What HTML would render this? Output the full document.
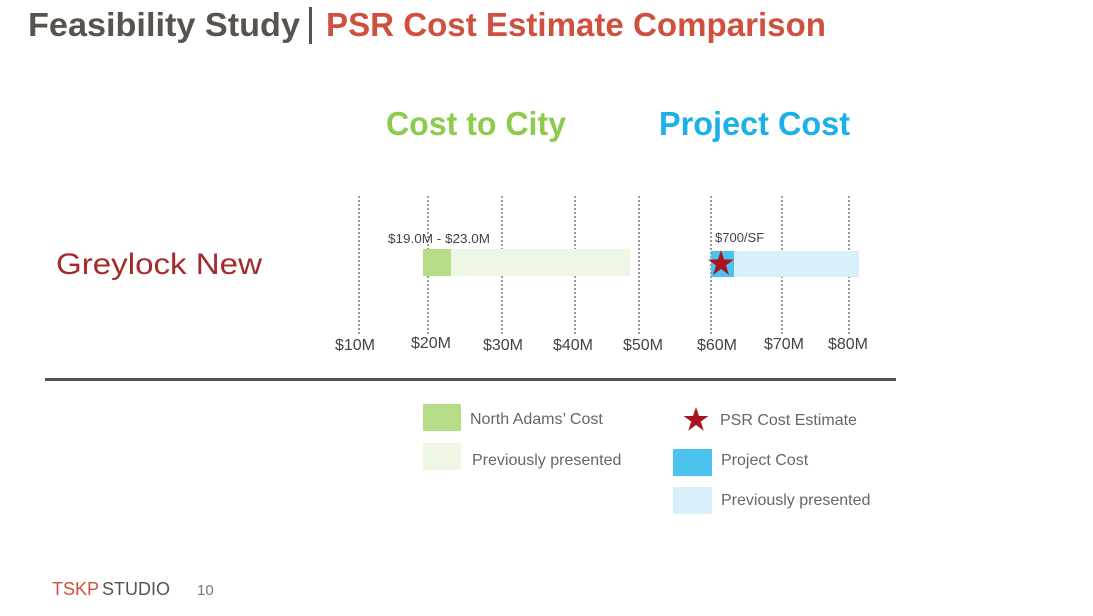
<!DOCTYPE html>
<html><head><meta charset="utf-8"><style>html,body{margin:0;padding:0;background:#fff}svg{display:block}</style></head>
<body>
<svg width="1093" height="616" xmlns="http://www.w3.org/2000/svg" font-family="Liberation Sans, sans-serif">
<rect width="1093" height="616" fill="#fff"/>
<text x="28" y="36" font-size="33" font-weight="bold" fill="#5a524c" textLength="272" lengthAdjust="spacingAndGlyphs">Feasibility Study</text>
<rect x="309" y="7" width="3" height="37" fill="#5a524c"/>
<text x="326" y="36" font-size="33" font-weight="bold" fill="#d0503f" textLength="500" lengthAdjust="spacingAndGlyphs">PSR Cost Estimate Comparison</text>
<text x="386" y="135" font-size="33" font-weight="bold" fill="#8ccc4c" textLength="180" lengthAdjust="spacingAndGlyphs">Cost to City</text>
<text x="659" y="135" font-size="33" font-weight="bold" fill="#1ab0e8" textLength="191" lengthAdjust="spacingAndGlyphs">Project Cost</text>
<text x="56" y="274" font-size="30" fill="#a52a2a" textLength="206" lengthAdjust="spacingAndGlyphs">Greylock New</text>
<g stroke="#333" stroke-width="1" stroke-dasharray="2,2">
<line x1="359" y1="196" x2="359" y2="334"/><line x1="428" y1="196" x2="428" y2="334"/>
<line x1="502" y1="196" x2="502" y2="334"/><line x1="575" y1="196" x2="575" y2="334"/>
<line x1="639" y1="196" x2="639" y2="334"/><line x1="711" y1="196" x2="711" y2="334"/>
<line x1="782" y1="196" x2="782" y2="334"/><line x1="849" y1="196" x2="849" y2="334"/>
</g>
<rect x="451" y="249" width="179" height="27" fill="#eef6e4"/>
<rect x="423" y="249" width="28" height="27" fill="#b5dd87"/>
<rect x="734" y="251" width="125" height="26" fill="#d7f0f9"/>
<rect x="711" y="251" width="23" height="26" fill="#4cc3ee"/>
<polygon points="721,250 724.1,259.5 734,259.5 726,265.4 729,275 721,269 713,275 716,265.4 708,259.5 717.9,259.5" fill="#a8151f"/>
<text x="388" y="243" font-size="13" fill="#444" textLength="102" lengthAdjust="spacingAndGlyphs">$19.0M - $23.0M</text>
<text x="715" y="242" font-size="13" fill="#444">$700/SF</text>
<g font-size="16" fill="#444" text-anchor="middle">
<text x="355" y="350">$10M</text><text x="431" y="348">$20M</text><text x="503" y="350">$30M</text>
<text x="573" y="350">$40M</text><text x="643" y="350">$50M</text><text x="717" y="350">$60M</text>
<text x="784" y="349">$70M</text><text x="848" y="349">$80M</text>
</g>
<rect x="45" y="378" width="851" height="3" fill="#5a524c"/>
<rect x="423" y="404" width="38" height="27" fill="#b5dd87"/>
<text x="470" y="424" font-size="16" fill="#666">North Adams’ Cost</text>
<rect x="423" y="443" width="38" height="27" fill="#eef6e4"/>
<text x="472" y="465" font-size="16" fill="#666">Previously presented</text>
<polygon points="696,407 699,416 708.5,416 700.8,421.6 703.7,430.6 696,425 688.3,430.6 691.2,421.6 683.5,416 693,416" fill="#a8151f"/>
<text x="720" y="425" font-size="16" fill="#666">PSR Cost Estimate</text>
<rect x="673" y="449" width="39" height="27" fill="#4cc3ee"/>
<text x="721" y="465" font-size="16" fill="#666">Project Cost</text>
<rect x="673" y="487" width="39" height="27" fill="#d7f0f9"/>
<text x="721" y="505" font-size="16" fill="#666">Previously presented</text>
<text x="52" y="595" font-size="18" fill="#d0503f">TSKP</text>
<text x="102" y="595" font-size="18" fill="#5a524c">STUDIO</text>
<text x="197" y="595" font-size="15" fill="#777">10</text>
</svg>
</body></html>
